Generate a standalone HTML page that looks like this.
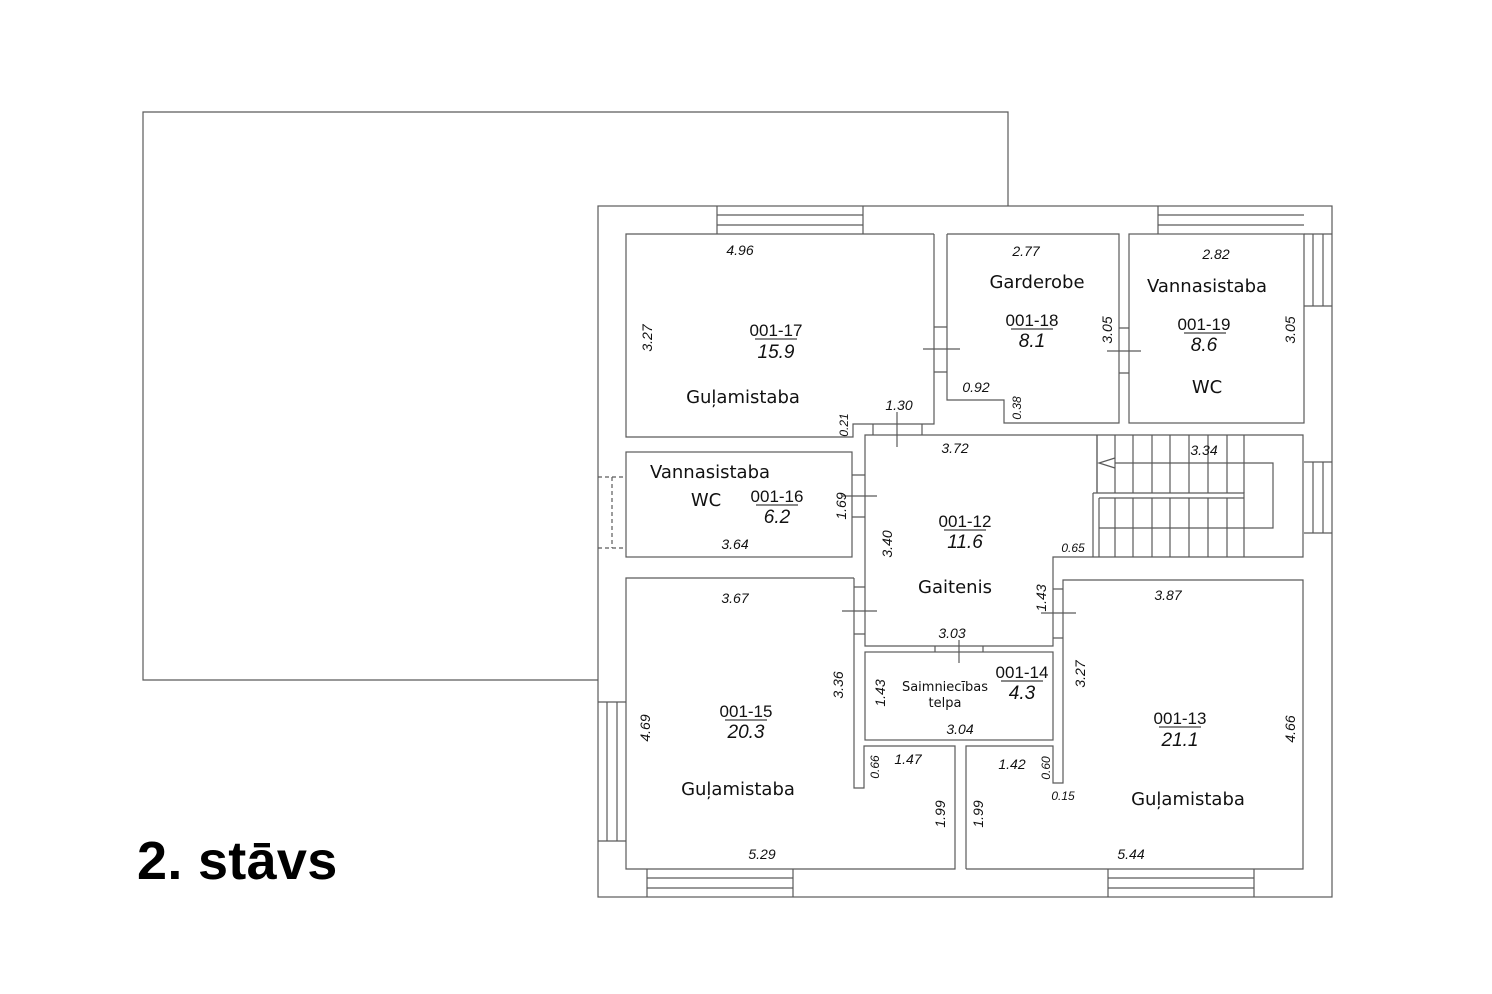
<!DOCTYPE html>
<html><head><meta charset="utf-8"><style>
html,body{margin:0;padding:0;background:#fff;}
svg{display:block;}
.l{stroke:#5a5a5a;stroke-width:1.2;fill:none;}
.n{font-family:"Liberation Sans",sans-serif;font-style:italic;font-size:14px;fill:#111;text-anchor:middle;}
.r{font-family:"DejaVu Sans","Liberation Sans",sans-serif;font-size:18px;fill:#111;text-anchor:middle;}
.c{font-family:"Liberation Sans Narrow","Liberation Sans",sans-serif;font-size:17px;fill:#111;text-anchor:middle;}
.a{font-family:"Liberation Sans",sans-serif;font-style:italic;font-size:19px;fill:#111;text-anchor:middle;}
</style></head><body>
<svg width="1492" height="994" viewBox="0 0 1492 994" xmlns="http://www.w3.org/2000/svg">
<g class="l">
<polyline points="598,680 143,680 143,112 1008,112 1008,206"/>
<rect x="598" y="206" width="734" height="691"/>
<path d="M717,206V234M863,206V234M717,215H863M717,225H863"/>
<path d="M1158,206V234M1158,215H1304M1158,225H1304"/>
<path d="M1304,234H1332M1313,234V306M1323,234V306M1304,306H1332"/>
<path d="M1304,462H1332M1313,462V533M1323,462V533M1304,533H1332"/>
<path d="M598,702H626M607,702V841M617,702V841M598,841H626"/>
<path d="M598,477H626M598,548H626M612,477V548" stroke-dasharray="4,3"/>
<path d="M647,869V897M793,869V897M647,878H793M647,888H793"/>
<path d="M1108,869V897M1254,869V897M1108,878H1254M1108,888H1254"/>
<polyline points="934,234 626,234 626,437 853,437 853,424 934,424 934,234"/>
<path d="M934,327H947M934,372H947M923,349H960"/>
<polyline points="947,234 1119,234 1119,423 1004,423 1004,400 947,400 947,234"/>
<rect x="1129" y="234" width="175" height="189"/>
<path d="M1119,328H1129M1119,373H1129M1107,351H1141"/>
<polyline points="1097,492 1097,435 865,435 865,646 1053,646 1053,557 1303,557 1303,435 1097,435"/>
<path d="M873,424V435M922,424V435M897,412V447"/>
<path d="M1097,435V493M1115,435V493M1133,435V493M1152,435V493M1170,435V493M1189,435V493M1208,435V493M1227,435V493M1244,435V493"/>
<path d="M1093,493H1244V557M1093,493V557"/>
<path d="M1099,498V557M1115,498V557M1133,498V557M1152,498V557M1170,498V557M1189,498V557M1208,498V557M1227,498V557"/>
<path d="M1099,498H1244M1099,528H1244"/>
<polyline points="1115,463 1273,463 1273,528 1244,528"/>
<polyline points="1115,458 1099,463 1115,468"/>
<rect x="626" y="452" width="226" height="105"/>
<path d="M852,475H865M852,517H865M842,496H877"/>
<polyline points="854,578 626,578 626,869 955,869 955,746 864,746 864,788 854,788 854,578"/>
<path d="M854,587H865M854,634H865M842,611H877"/>
<rect x="865" y="652" width="188" height="88"/>
<path d="M935,646V652M983,646V652M959,640V663"/>
<polyline points="966,869 966,746 1053,746 1053,783 1063,783 1063,580 1303,580 1303,869 966,869"/>
<path d="M1053,589H1063M1053,638H1063M1041,613H1076"/>
</g>
<g stroke="#111" stroke-width="1">
<path d="M755,339H797M1011,329H1053M1184,333H1226M944,530H986M756,505H798M725,720H767M1001,681H1043M1159,727H1201"/>
</g>
<g>
<text class="n" x="740" y="255">4.96</text>
<text class="n" transform="translate(652,338) rotate(-90)">3.27</text>
<text class="c" x="776" y="336">001-17</text>
<text class="a" x="776" y="358">15.9</text>
<text class="r" x="743" y="403">Guļamistaba</text>
<text class="n" x="899" y="410">1.30</text>
<text class="n" transform="translate(848,425) rotate(-90)" style="font-size:12px">0.21</text>

<text class="n" x="1026" y="256">2.77</text>
<text class="r" x="1037" y="288">Garderobe</text>
<text class="c" x="1032" y="326">001-18</text>
<text class="a" x="1032" y="347">8.1</text>
<text class="n" transform="translate(1112,330) rotate(-90)">3.05</text>
<text class="n" x="976" y="392">0.92</text>
<text class="n" transform="translate(1021,408) rotate(-90)" style="font-size:12px">0.38</text>

<text class="n" x="1216" y="259">2.82</text>
<text class="r" x="1207" y="292">Vannasistaba</text>
<text class="c" x="1204" y="330">001-19</text>
<text class="a" x="1204" y="351">8.6</text>
<text class="n" transform="translate(1295,330) rotate(-90)">3.05</text>
<text class="r" x="1207" y="393">WC</text>

<text class="n" x="955" y="453">3.72</text>
<text class="n" x="1204" y="455">3.34</text>
<text class="c" x="965" y="527">001-12</text>
<text class="a" x="965" y="548">11.6</text>
<text class="n" transform="translate(892,544) rotate(-90)">3.40</text>
<text class="r" x="955" y="593">Gaitenis</text>
<text class="n" x="1073" y="552" style="font-size:12px">0.65</text>
<text class="n" transform="translate(1046,598) rotate(-90)">1.43</text>

<text class="r" x="710" y="478">Vannasistaba</text>
<text class="r" x="706" y="506">WC</text>
<text class="c" x="777" y="502">001-16</text>
<text class="a" x="777" y="523">6.2</text>
<text class="n" transform="translate(846,506) rotate(-90)">1.69</text>
<text class="n" x="735" y="549">3.64</text>

<text class="n" x="735" y="603">3.67</text>
<text class="n" transform="translate(843,685) rotate(-90)">3.36</text>
<text class="c" x="746" y="717">001-15</text>
<text class="a" x="746" y="738">20.3</text>
<text class="n" transform="translate(650,728) rotate(-90)">4.69</text>
<text class="r" x="738" y="795">Guļamistaba</text>
<text class="n" x="908" y="764">1.47</text>
<text class="n" transform="translate(879,767) rotate(-90)" style="font-size:12px">0.66</text>
<text class="n" transform="translate(945,814) rotate(-90)">1.99</text>
<text class="n" x="762" y="859">5.29</text>

<text class="n" x="952" y="638">3.03</text>
<text class="r" x="945" y="691" style="font-size:13px">Saimniecības</text>
<text class="r" x="945" y="707" style="font-size:13px">telpa</text>
<text class="c" x="1022" y="678">001-14</text>
<text class="a" x="1022" y="699">4.3</text>
<text class="n" transform="translate(885,693) rotate(-90)">1.43</text>
<text class="n" x="960" y="734">3.04</text>

<text class="n" x="1168" y="600">3.87</text>
<text class="n" transform="translate(1085,674) rotate(-90)">3.27</text>
<text class="c" x="1180" y="724">001-13</text>
<text class="a" x="1180" y="746">21.1</text>
<text class="n" transform="translate(1295,729) rotate(-90)">4.66</text>
<text class="n" x="1012" y="769">1.42</text>
<text class="n" transform="translate(1050,768) rotate(-90)" style="font-size:12px">0.60</text>
<text class="n" x="1063" y="800" style="font-size:12px">0.15</text>
<text class="n" transform="translate(983,814) rotate(-90)">1.99</text>
<text class="r" x="1188" y="805">Guļamistaba</text>
<text class="n" x="1131" y="859">5.44</text>

<text x="137" y="879" style="font-family:'Liberation Sans',sans-serif;font-weight:bold;font-size:54px;fill:#000;letter-spacing:0.3px">2. stāvs</text>
</g>
</svg>
</body></html>
